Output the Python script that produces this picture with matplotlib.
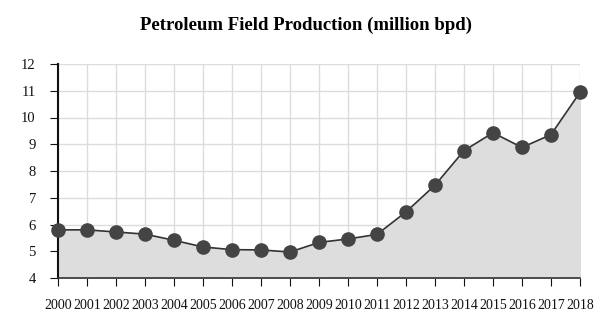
import matplotlib.pyplot as plt

years = list(range(2000, 2019))
production = [5.80, 5.80, 5.72, 5.64, 5.41, 5.16, 5.06, 5.05, 4.97, 5.33,
              5.46, 5.63, 6.47, 7.47, 8.76, 9.43, 8.88, 9.36, 10.94]
y_ticks = [4, 5, 6, 7, 8, 9, 10, 11, 12]

plt.rcParams['font.family'] = ['Liberation Serif', 'DejaVu Serif']

fig = plt.figure(figsize=(6.13, 3.33), dpi=100)
ax = fig.add_axes([58 / 613, 1 - 278 / 333, 522 / 613, 214 / 333])

ax.fill_between(years, production, 4, color='#dddddd', zorder=1)
ax.plot(years, production, color='#333333', linewidth=1.2, marker='o',
        markersize=9.5, markerfacecolor='#444444', markeredgecolor='#444444',
        zorder=3, clip_on=False)

ax.set_xlim(2000, 2018)
ax.set_ylim(4, 12)
ax.set_xticks(years)
ax.set_xticklabels([str(y) for y in years])
ax.set_yticks(y_ticks)
ax.grid(True, color='#dcdcdc', linewidth=1, zorder=0)
ax.set_axisbelow(True)

for side in ['top', 'right']:
    ax.spines[side].set_visible(False)
ax.spines['left'].set_color('#111111')
ax.spines['left'].set_linewidth(1.5)
ax.spines['bottom'].set_color('#333333')
ax.spines['bottom'].set_linewidth(1.2)

ax.tick_params(axis='both', colors='#111111', length=6, width=0.8)
ax.tick_params(axis='x', labelsize=10, pad=9)
ax.tick_params(axis='y', labelsize=10.5, pad=10)

fig.text(0.5, 0.925, 'Petroleum Field Production (million bpd)',
         ha='center', va='center', fontsize=13.5, fontweight='bold')

fig.savefig('out.png', dpi=100)
